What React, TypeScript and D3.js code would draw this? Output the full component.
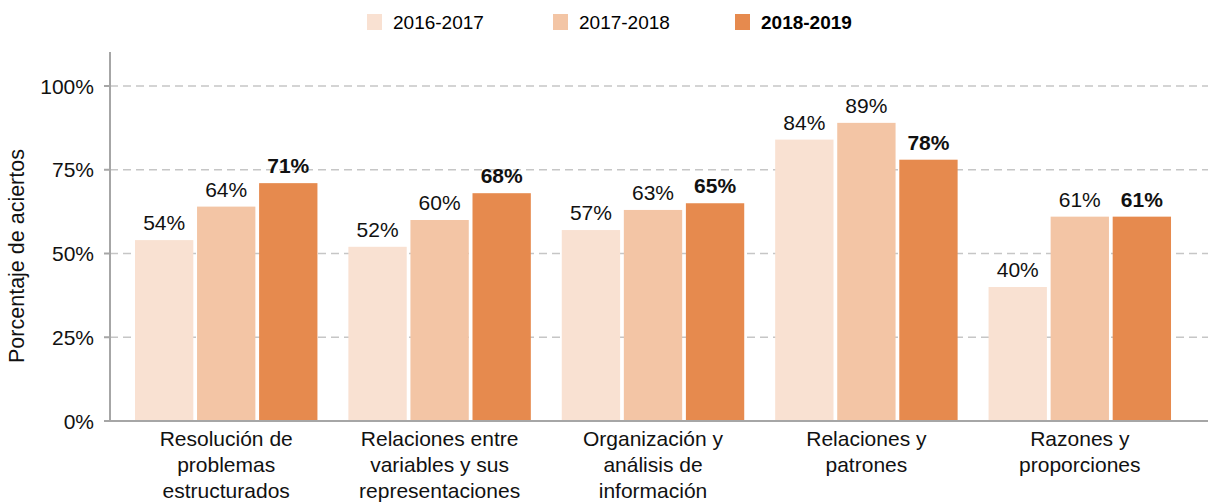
import React from "react";
import * as d3 from "d3";

const categories = [
  ["Resolución de", "problemas", "estructurados"],
  ["Relaciones entre", "variables y sus", "representaciones"],
  ["Organización y", "análisis de", "información"],
  ["Relaciones y", "patrones"],
  ["Razones y", "proporciones"],
];
const seriesNames = ["2016-2017", "2017-2018", "2018-2019"];
const values2016 = [54, 52, 57, 84, 40];
const values2017 = [64, 60, 63, 89, 61];
const values2018 = [71, 68, 65, 78, 61];
const yTicks = [0, 25, 50, 75, 100];
const colors = ["#F9E1D2", "#F3C5A5", "#E68A4E"];

const W = 1208;
const H = 503;
const FONT = "'Liberation Sans', Arial, sans-serif";

export default function App() {
  const series = [values2016, values2017, values2018];
  const catKeys = categories.map((c) => c.join(" "));
  const x0 = d3
    .scaleBand<string>()
    .domain(catKeys)
    .range([111, 1195])
    .paddingInner(0.145)
    .paddingOuter(0.1124);
  const x1 = d3
    .scaleBand<string>()
    .domain(seriesNames)
    .range([0, x0.bandwidth()])
    .paddingInner(0.06);
  const y = d3.scaleLinear().domain([0, 100]).range([421, 86]);

  const legendX = [367, 553, 735];

  return (
    <svg
      width={W}
      height={H}
      style={{ position: "absolute", left: 0, top: 0, fontFamily: FONT }}
    >
      {seriesNames.map((s, i) => (
        <g key={s}>
          <rect x={legendX[i]} y={14} width={15} height={16} fill={colors[i]} />
          <text
            x={legendX[i] + 26}
            y={29}
            fontSize={19}
            fontWeight={i === 2 ? "bold" : "normal"}
            fill="#000"
          >
            {s}
          </text>
        </g>
      ))}

      {yTicks
        .filter((t) => t > 0)
        .map((t) => (
          <line
            key={t}
            x1={110}
            x2={W}
            y1={y(t)}
            y2={y(t)}
            stroke="#c6c6c6"
            strokeWidth={1.3}
            strokeDasharray="8,5"
          />
        ))}

      {catKeys.map((c, ci) => (
        <g key={c} transform={`translate(${x0(c)},0)`}>
          {seriesNames.map((s, si) => {
            const v = series[si][ci];
            const bx = x1(s)!;
            return (
              <g key={s}>
                <rect
                  x={bx}
                  y={y(v)}
                  width={x1.bandwidth()}
                  height={y(0) - y(v)}
                  fill={colors[si]}
                />
                <text
                  x={bx + x1.bandwidth() / 2}
                  y={y(v) - 10}
                  textAnchor="middle"
                  fontSize={21}
                  fontWeight={si === 2 ? "bold" : "normal"}
                  fill="#111"
                >
                  {v}%
                </text>
              </g>
            );
          })}
        </g>
      ))}

      <line x1={110} x2={110} y1={52} y2={421} stroke="#a6a6a6" strokeWidth={2} />
      <line x1={104} x2={W} y1={421} y2={421} stroke="#a6a6a6" strokeWidth={2.2} />
      {yTicks.map((t) => (
        <g key={t}>
          <line x1={104} x2={110} y1={y(t)} y2={y(t)} stroke="#a6a6a6" strokeWidth={2} />
          <text
            x={94}
            y={y(t) + 7.5}
            textAnchor="end"
            fontSize={21}
            fill="#111"
          >
            {t}%
          </text>
        </g>
      ))}

      {categories.map((lines, ci) => (
        <text
          key={ci}
          x={x0(catKeys[ci])! + x0.bandwidth() / 2}
          y={446}
          textAnchor="middle"
          fontSize={21}
          fill="#111"
        >
          {lines.map((l, li) => (
            <tspan key={li} x={x0(catKeys[ci])! + x0.bandwidth() / 2} dy={li === 0 ? 0 : 26}>
              {l}
            </tspan>
          ))}
        </text>
      ))}

      <text
        transform={`translate(24,256) rotate(-90)`}
        textAnchor="middle"
        fontSize={21.5}
        fill="#111"
      >
        Porcentaje de aciertos
      </text>
    </svg>
  );
}
